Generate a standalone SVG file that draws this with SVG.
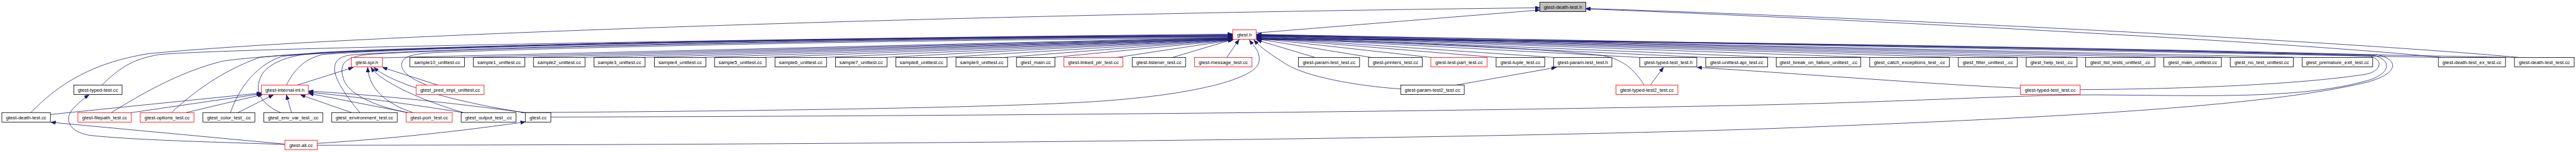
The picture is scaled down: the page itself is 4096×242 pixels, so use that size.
<svg xmlns="http://www.w3.org/2000/svg" width="4096" height="242" viewBox="0 0 4096 242">
<defs>
<marker id="a" markerUnits="userSpaceOnUse" markerWidth="14" markerHeight="10" refX="13" refY="5" orient="auto"><path d="M0,0 L13,5 L0,10 z" fill="#191970" stroke="#191970" stroke-width="1"/></marker>
<style>
.n rect{fill:#fff;stroke:#000;stroke-width:1.4}
.n.r rect{stroke:#ff0000}
.n.root rect{fill:#bfbfbf}
.n text{font-family:"Liberation Sans",Arial,sans-serif;font-size:13.3px;text-anchor:middle;fill:#000}
#edges path{fill:none;stroke:#191970;stroke-width:1.3;marker-end:url(#a)}
</style>
</defs>
<rect width="4096" height="242" fill="#fff"/>
<g transform="scale(0.589862)">
<g id="edges">
<path d="M83,304 C150,235 240,170 400,145 C900,95 2600,38 4151,21"/>
<path d="M3386,89 L4151,27"/>
<path d="M6790,155 C6300,110 5000,45 4275,23"/>
<path d="M6580,155 C6200,115 5000,52 4275,24"/>
<path d="M275,229.5 C320,185 355,160 430,147 C700,125 2500,100 3323,92"/>
<path d="M300,304 C380,255 480,195 600,165 C900,120 2500,100 3323,94"/>
<path d="M462,304 C520,250 600,190 700,155 C1000,120 2500,100 3323,95"/>
<path d="M621,304 C640,250 680,180 760,152 C1100,120 2500,100 3323,96"/>
<path d="M757,304 C700,280 680,240 710,195 C740,160 800,147 860,142 C1200,120 2500,100 3323,97"/>
<path d="M772,229.5 C790,195 815,160 870,147 C1200,122 2500,101 3323,98"/>
<path d="M970,304 C930,255 890,200 905,170 C915,150 940,148 980,146 C1300,125 2500,102 3323,99"/>
<path d="M1098,304 C1000,285 935,250 925,210 C915,175 925,155 990,147 C1300,127 2500,103 3323,100"/>
<path d="M1031,156 L3323,101"/>
<path d="M1245,155 L3323,102"/>
<path d="M1150,229.5 C1100,210 1080,190 1083,172 C1086,152 1110,146 1170,142 C1600,125 2600,105 3323,103"/>
<path d="M1408,155 L3323,103"/>
<path d="M1570,155 L3323,104"/>
<path d="M1732,155 L3323,104"/>
<path d="M1895,155 L3323,105"/>
<path d="M2058,155 L3323,105"/>
<path d="M2221,155 L3323,106"/>
<path d="M2384,155 L3323,106"/>
<path d="M2546,155 L3323,107"/>
<path d="M2709,155 L3323,107"/>
<path d="M2838,155 L3323,108"/>
<path d="M3011,155 L3323,108"/>
<path d="M3161,155 L3325,106"/>
<path d="M3307,155 L3340,107"/>
<path d="M1404,304 C2000,300 2600,292 2900,277 C3200,262 3380,215 3393,170 C3400,140 3380,125 3368,108"/>
<path d="M3776,240 C3650,232 3520,205 3470,175 C3430,150 3400,130 3380,108"/>
<path d="M3545,155 L3388,108"/>
<path d="M3696,155 L3388,105"/>
<path d="M3857,155 L3388,103"/>
<path d="M4033,155 L3388,102"/>
<path d="M4188,155 L3388,101"/>
<path d="M4420,155 L3388,100"/>
<path d="M4598,155 L3388,99"/>
<path d="M4788,155 L3388,98"/>
<path d="M5040,155 L3388,97"/>
<path d="M5279,155 L3388,97"/>
<path d="M5462,155 L3388,96"/>
<path d="M5622,155 L3388,95"/>
<path d="M5833,155 L3388,95"/>
<path d="M6012,155 L3388,94"/>
<path d="M6206,155 L3388,94"/>
<path d="M6573,155 L3388,93"/>
<path d="M6778,155 L3388,93"/>
<path d="M4432,229.5 C4410,195 4380,160 4320,150 C4100,125 3700,110 3388,107"/>
<path d="M5607,242 C5900,240 6200,228 6380,200 C6420,190 6425,162 6390,152 C6000,138 4500,110 3388,104"/>
<path d="M1485,316 C3000,312 4200,296 4800,282 C5200,272 5450,256 5650,256 C5950,258 6200,268 6380,218 C6450,198 6445,160 6400,150 C6000,137 4500,108 3388,105"/>
<path d="M855,392 C2500,391 4200,372 4900,342 C5500,318 6100,290 6380,222 C6470,198 6465,160 6410,148 C6000,136 4500,107 3388,106"/>
<path d="M4449,229.5 L4484,182"/>
<path d="M5446,238 C5200,227 4800,195 4575,182"/>
<path d="M3926,229.5 L4195,182"/>
<path d="M136,309 L705,251"/>
<path d="M354,304 L705,253"/>
<path d="M501,304 L708,255"/>
<path d="M641,304 L737,256"/>
<path d="M786,304 L772,256"/>
<path d="M948,304 L810,256"/>
<path d="M1100,304 L832,252"/>
<path d="M1249,304 C1100,280 950,260 832,249"/>
<path d="M1415,304 C1200,275 1000,255 832,246"/>
<path d="M1114,304 C1040,280 995,240 991,182"/>
<path d="M1249,304 C1150,275 1030,225 1000,182"/>
<path d="M1415,304 C1250,280 1060,230 1008,182"/>
<path d="M1180,229.5 L1031,182"/>
<path d="M802,229.5 L952,182"/>
<path d="M768,389 L137,330"/>
<path d="M768,390 C600,384 350,378 240,365 C185,355 170,320 200,290 C215,275 228,264 240,256"/>
<path d="M855,387 C1000,378 1200,360 1416,329"/>
</g>
<g id="n_dth" class="n root"><rect x="4151" y="6" width="124" height="25.5"/><text x="4213" y="23.4">gtest-death-test.h</text></g>
<g id="n_gh" class="n r"><rect x="3323" y="80.5" width="63" height="25.5"/><text x="3354.5" y="97.9">gtest.h</text></g>
<g id="n_spi" class="n r"><rect x="947" y="155" width="84" height="25.5"/><text x="989" y="172.4">gtest-spi.h</text></g>
<g id="n_s10" class="n"><rect x="1105" y="155" width="147" height="25.5"/><text x="1178.5" y="172.4">sample10_unittest.cc</text></g>
<g id="n_s1" class="n"><rect x="1276" y="155" width="139" height="25.5"/><text x="1345.5" y="172.4">sample1_unittest.cc</text></g>
<g id="n_s2" class="n"><rect x="1438" y="155" width="139" height="25.5"/><text x="1507.5" y="172.4">sample2_unittest.cc</text></g>
<g id="n_s3" class="n"><rect x="1601" y="155" width="138" height="25.5"/><text x="1670" y="172.4">sample3_unittest.cc</text></g>
<g id="n_s4" class="n"><rect x="1764" y="155" width="139" height="25.5"/><text x="1833.5" y="172.4">sample4_unittest.cc</text></g>
<g id="n_s5" class="n"><rect x="1926" y="155" width="139" height="25.5"/><text x="1995.5" y="172.4">sample5_unittest.cc</text></g>
<g id="n_s6" class="n"><rect x="2089" y="155" width="139" height="25.5"/><text x="2158.5" y="172.4">sample6_unittest.cc</text></g>
<g id="n_s7" class="n"><rect x="2252" y="155" width="139" height="25.5"/><text x="2321.5" y="172.4">sample7_unittest.cc</text></g>
<g id="n_s8" class="n"><rect x="2415" y="155" width="138" height="25.5"/><text x="2484" y="172.4">sample8_unittest.cc</text></g>
<g id="n_s9" class="n"><rect x="2577" y="155" width="139" height="25.5"/><text x="2646.5" y="172.4">sample9_unittest.cc</text></g>
<g id="n_gmain" class="n"><rect x="2740" y="155" width="104" height="25.5"/><text x="2792" y="172.4">gtest_main.cc</text></g>
<g id="n_linked" class="n r"><rect x="2868" y="155" width="159" height="25.5"/><text x="2947.5" y="172.4">gtest-linked_ptr_test.cc</text></g>
<g id="n_listener" class="n"><rect x="3052" y="155" width="144" height="25.5"/><text x="3124" y="172.4">gtest-listener_test.cc</text></g>
<g id="n_message" class="n r"><rect x="3220" y="155" width="155" height="25.5"/><text x="3297.5" y="172.4">gtest-message_test.cc</text></g>
<g id="n_paramtt" class="n"><rect x="3500" y="155" width="165" height="25.5"/><text x="3582.5" y="172.4">gtest-param-test_test.cc</text></g>
<g id="n_printers" class="n"><rect x="3689" y="155" width="145" height="25.5"/><text x="3761.5" y="172.4">gtest-printers_test.cc</text></g>
<g id="n_testpart" class="n r"><rect x="3857" y="155" width="152" height="25.5"/><text x="3933" y="172.4">gtest-test-part_test.cc</text></g>
<g id="n_tuple" class="n"><rect x="4033" y="155" width="131" height="25.5"/><text x="4098.5" y="172.4">gtest-tuple_test.cc</text></g>
<g id="n_paramh" class="n"><rect x="4188" y="155" width="157" height="25.5"/><text x="4266.5" y="172.4">gtest-param-test_test.h</text></g>
<g id="n_typedh" class="n"><rect x="4420" y="155" width="154" height="25.5"/><text x="4497" y="172.4">gtest-typed-test_test.h</text></g>
<g id="n_unitapi" class="n"><rect x="4598" y="155" width="167" height="25.5"/><text x="4681.5" y="172.4">gtest-unittest-api_test.cc</text></g>
<g id="n_breakf" class="n"><rect x="4788" y="155" width="228" height="25.5"/><text x="4902" y="172.4">gtest_break_on_failure_unittest_.cc</text></g>
<g id="n_catchx" class="n"><rect x="5040" y="155" width="215" height="25.5"/><text x="5147.5" y="172.4">gtest_catch_exceptions_test_.cc</text></g>
<g id="n_filter" class="n"><rect x="5279" y="155" width="159" height="25.5"/><text x="5358.5" y="172.4">gtest_filter_unittest_.cc</text></g>
<g id="n_help" class="n"><rect x="5462" y="155" width="137" height="25.5"/><text x="5530.5" y="172.4">gtest_help_test_.cc</text></g>
<g id="n_listt" class="n"><rect x="5622" y="155" width="187" height="25.5"/><text x="5715.5" y="172.4">gtest_list_tests_unittest_.cc</text></g>
<g id="n_mainu" class="n"><rect x="5833" y="155" width="155" height="25.5"/><text x="5910.5" y="172.4">gtest_main_unittest.cc</text></g>
<g id="n_notest" class="n"><rect x="6012" y="155" width="170" height="25.5"/><text x="6097" y="172.4">gtest_no_test_unittest.cc</text></g>
<g id="n_premature" class="n"><rect x="6206" y="155" width="190" height="25.5"/><text x="6301" y="172.4">gtest_premature_exit_test.cc</text></g>
<g id="n_dtex" class="n"><rect x="6573" y="155" width="181" height="25.5"/><text x="6663.5" y="172.4">gtest-death-test_ex_test.cc</text></g>
<g id="n_dtt" class="n"><rect x="6778" y="155" width="161" height="25.5"/><text x="6858.5" y="172.4">gtest-death-test_test.cc</text></g>
<g id="n_typedcc" class="n"><rect x="199" y="229.5" width="130" height="25.5"/><text x="264" y="246.9">gtest-typed-test.cc</text></g>
<g id="n_inl" class="n r"><rect x="705" y="229.5" width="126" height="25.5"/><text x="768" y="246.9">gtest-internal-inl.h</text></g>
<g id="n_predimpl" class="n r"><rect x="1122" y="229.5" width="183" height="25.5"/><text x="1213.5" y="246.9">gtest_pred_impl_unittest.cc</text></g>
<g id="n_param2" class="n"><rect x="3776" y="229.5" width="171" height="25.5"/><text x="3861.5" y="246.9">gtest-param-test2_test.cc</text></g>
<g id="n_typed2" class="n r"><rect x="4356" y="229.5" width="167" height="25.5"/><text x="4439.5" y="246.9">gtest-typed-test2_test.cc</text></g>
<g id="n_typedtt" class="n r"><rect x="5446" y="229.5" width="161" height="25.5"/><text x="5526.5" y="246.9">gtest-typed-test_test.cc</text></g>
<g id="n_dtcc" class="n"><rect x="5" y="304" width="131" height="25.5"/><text x="70.5" y="321.4">gtest-death-test.cc</text></g>
<g id="n_filepath" class="n r"><rect x="210" y="304" width="144" height="25.5"/><text x="282" y="321.4">gtest-filepath_test.cc</text></g>
<g id="n_options" class="n r"><rect x="378" y="304" width="145" height="25.5"/><text x="450.5" y="321.4">gtest-options_test.cc</text></g>
<g id="n_color" class="n"><rect x="547" y="304" width="140" height="25.5"/><text x="617" y="321.4">gtest_color_test_.cc</text></g>
<g id="n_envvar" class="n"><rect x="711" y="304" width="159" height="25.5"/><text x="790.5" y="321.4">gtest_env_var_test_.cc</text></g>
<g id="n_environment" class="n"><rect x="894" y="304" width="177" height="25.5"/><text x="982.5" y="321.4">gtest_environment_test.cc</text></g>
<g id="n_port" class="n r"><rect x="1095" y="304" width="124" height="25.5"/><text x="1157" y="321.4">gtest-port_test.cc</text></g>
<g id="n_output" class="n"><rect x="1243" y="304" width="148" height="25.5"/><text x="1317" y="321.4">gtest_output_test_.cc</text></g>
<g id="n_gcc" class="n"><rect x="1416" y="304" width="69" height="25.5"/><text x="1450.5" y="321.4">gtest.cc</text></g>
<g id="n_all" class="n r"><rect x="768" y="378.5" width="87" height="25.5"/><text x="811.5" y="395.9">gtest-all.cc</text></g>
</g>
</svg>
